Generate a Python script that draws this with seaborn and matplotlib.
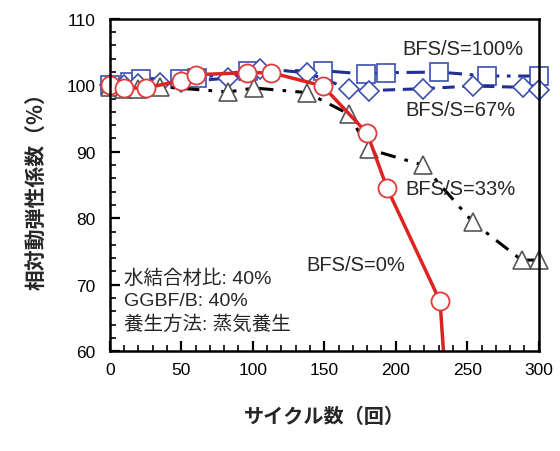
import pandas as pd
import seaborn as sns
import matplotlib
matplotlib.use("Agg")
import matplotlib.pyplot as plt
from matplotlib.ticker import MultipleLocator

# data
cycles_100 = [0, 14, 22, 49, 61, 97, 149, 179, 193, 230, 264, 300]
rdm_100 = [100.0, 100.5, 101.0, 101.0, 101.1, 102.2, 102.2, 101.7, 101.9, 102.0, 101.4, 101.4]

cycles_67 = [0, 10, 20, 35, 50, 83, 105, 138, 167, 181, 219, 254, 289, 300]
rdm_67 = [100.0, 100.0, 100.2, 100.3, 100.5, 101.1, 102.5, 101.9, 99.5, 99.2, 99.5, 99.9, 99.7, 99.3]

cycles_33 = [0, 10, 20, 35, 83, 101, 138, 167, 181, 219, 254, 288, 300]
rdm_33 = [99.7, 99.5, 99.5, 99.8, 99.0, 99.6, 98.9, 95.7, 90.4, 88.0, 79.4, 73.7, 73.7]

cycles_0 = [0, 10, 25, 50, 60, 96, 113, 149, 180, 194, 231, 234]
rdm_0 = [100.0, 99.6, 99.6, 100.7, 101.6, 101.9, 101.9, 99.9, 92.8, 84.5, 67.5, 58.0]

sns.set_style("ticks")
plt.rcParams['font.family'] = ['Liberation Sans', 'Noto Sans CJK JP', 'DejaVu Sans']

fig = plt.figure(figsize=(5.6, 4.52), dpi=100)
ax = fig.add_axes([0.196, 0.221, 0.766, 0.735])

navy = "#1f2f95"
mblue = "#3b4fae"

df100 = pd.DataFrame({"x": cycles_100, "y": rdm_100})
df67 = pd.DataFrame({"x": cycles_67, "y": rdm_67})
df33 = pd.DataFrame({"x": cycles_33, "y": rdm_33})
df0 = pd.DataFrame({"x": cycles_0, "y": rdm_0})

sns.lineplot(data=df100, x="x", y="y", ax=ax, color=navy, lw=2.2,
             marker="s", markersize=13, markerfacecolor="white",
             markeredgecolor=mblue, markeredgewidth=1.2, clip_on=False)
ax.lines[-1].set_dashes([6, 2.5, 1.2, 2.5])
sns.lineplot(data=df67, x="x", y="y", ax=ax, color=navy, lw=2.2,
             marker="D", markersize=10.5, markerfacecolor="white",
             markeredgecolor=mblue, markeredgewidth=1.2, clip_on=False)
ax.lines[-1].set_dashes([4, 2.5])
sns.lineplot(data=df33, x="x", y="y", ax=ax, color="black", lw=2.2,
             marker="^", markersize=13, markerfacecolor="white",
             markeredgecolor="#555555", markeredgewidth=1.2, clip_on=False)
ax.lines[-1].set_dashes([5, 3, 1.2, 3])

# red series: line clipped at the bottom axis, markers drawn unclipped
sns.lineplot(data=df0, x="x", y="y", ax=ax, color="#dd2222", lw=2.5)
sns.lineplot(data=df0[df0["y"] >= 60], x="x", y="y", ax=ax, color="#dd2222",
             lw=0, marker="o", markersize=13, markerfacecolor="white",
             markeredgecolor="#e03a3a", markeredgewidth=1.3, clip_on=False)

ax.set_xlim(0, 300)
ax.set_ylim(60, 110)
ax.xaxis.set_major_locator(MultipleLocator(50))
ax.xaxis.set_minor_locator(MultipleLocator(10))
ax.yaxis.set_major_locator(MultipleLocator(10))
ax.yaxis.set_minor_locator(MultipleLocator(2))
ax.tick_params(which="major", direction="in", length=7, width=1.6,
               labelsize=12.5, colors="black", pad=8)
ax.tick_params(which="minor", direction="in", length=4, width=1.4)
ax.tick_params(axis="y", pad=10)
for s in ax.spines.values():
    s.set_linewidth(1.8)
    s.set_color("black")
    s.set_visible(True)

ax.set_xlabel("サイクル数（回）", fontsize=14.5, fontweight="bold",
              family=['Noto Sans CJK JP'], labelpad=20)
ax.set_ylabel("相対動弾性係数（%）", fontsize=15, fontweight="bold",
              family=['Noto Sans CJK JP'], labelpad=14)

ax.text(247, 105.5, "BFS/S=100%", fontsize=14.5, ha="center", va="center")
ax.text(245, 96.4, "BFS/S=67%", fontsize=14.5, ha="center", va="center")
ax.text(245, 84.4, "BFS/S=33%", fontsize=14.5, ha="center", va="center")
ax.text(172, 73.1, "BFS/S=0%", fontsize=14.5, ha="center", va="center")

ax.text(10, 71.0, "水結合材比: 40%", fontsize=14, va="center")
ax.text(10, 67.6, "GGBF/B: 40%", fontsize=14, va="center")
ax.text(10, 64.2, "養生方法: 蒸気養生", fontsize=14, va="center")

fig.savefig("out.png", dpi=100)
